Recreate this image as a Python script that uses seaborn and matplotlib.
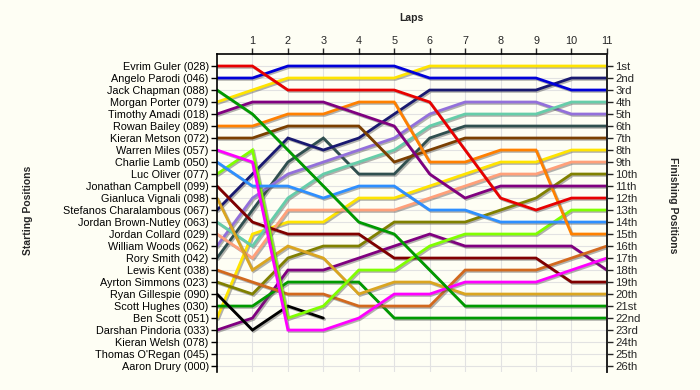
import matplotlib
matplotlib.use('Agg')
import matplotlib.pyplot as plt
import matplotlib.patheffects as pe
import pandas as pd
import seaborn as sns

laps = list(range(0, 12))

drivers = [
    'Evrim Guler (028)', 'Angelo Parodi (046)', 'Jack Chapman (088)', 'Morgan Porter (079)',
    'Timothy Amadi (018)', 'Rowan Bailey (089)', 'Kieran Metson (072)', 'Warren Miles (057)',
    'Charlie Lamb (050)', 'Luc Oliver (077)', 'Jonathan Campbell (099)', 'Gianluca Vignali (098)',
    'Stefanos Charalambous (067)', 'Jordan Brown-Nutley (063)', 'Jordan Collard (029)',
    'William Woods (062)', 'Rory Smith (042)', 'Lewis Kent (038)', 'Ayrton Simmons (023)',
    'Ryan Gillespie (090)', 'Scott Hughes (030)', 'Ben Scott (051)', 'Darshan Pindoria (033)',
    'Kieran Welsh (078)', "Thomas O'Regan (045)", 'Aaron Drury (000)',
]

# positions at start (lap 0) and after each lap
evrim = [1, 1, 3, 3, 3, 3, 4, 8, 12, 13, 12, 12]
angelo = [2, 2, 1, 1, 1, 1, 2, 2, 2, 2, 3, 3]
jack = [3, 5, 8, 11, 14, 15, 18, 21, 21, 21, 21, 21]
morgan = [4, 3, 2, 2, 2, 2, 1, 1, 1, 1, 1, 1]
timothy = [5, 4, 4, 4, 5, 6, 10, 12, 11, 11, 11, 11]
rowan = [6, 6, 5, 5, 4, 4, 9, 9, 8, 8, 15, 15]
kieran_m = [7, 7, 6, 6, 6, 9, 8, 7, 7, 7, 7, 7]
warren = [8, 9, 23, 23, 22, 20, 20, 19, 19, 19, 18, 17]
charlie = [9, 11, 11, 12, 11, 11, 13, 13, 14, 14, 14, 14]
luc = [10, 8, 22, 21, 18, 18, 16, 15, 15, 15, 13, 13]
jonathan = [11, 14, 15, 15, 15, 17, 17, 17, 17, 17, 19, 19]
gianluca = [12, 18, 16, 17, 20, 19, 19, 20, 20, 20, 20, 20]
stefanos = [13, 10, 7, 8, 7, 5, 3, 3, 3, 3, 2, 2]
jordan_bn = [14, 16, 12, 10, 9, 8, 6, 5, 5, 5, 4, 4]
jordan_c = [15, 17, 13, 13, 13, 13, 12, 11, 10, 10, 9, 9]
william = [16, 12, 10, 9, 8, 7, 5, 4, 4, 4, 5, 5]
rory = [17, 13, 9, 7, 10, 10, 7, 6, 6, 6, 6, 6]
lewis = [18, 19, 20, 20, 21, 21, 21, 18, 18, 18, 17, 16]
ayrton = [19, 20, 17, 16, 16, 14, 14, 14, 13, 12, 10, 10]
ryan = [20, 23, 21, 22]
scott = [21, 21, 19, 19, 19, 22, 22, 22, 22, 22, 22, 22]
ben = [22, 15, 14, 14, 12, 12, 11, 10, 9, 9, 8, 8]
darshan = [23, 22, 18, 18, 17, 16, 15, 16, 16, 16, 16, 18]

positions = [evrim, angelo, jack, morgan, timothy, rowan, kieran_m, warren, charlie, luc,
             jonathan, gianluca, stefanos, jordan_bn, jordan_c, william, rory, lewis, ayrton,
             ryan, scott, ben, darshan]

colors = ['#e80000', '#0000d8', '#009a00', '#ffe400', '#800080', '#ff8000', '#7b3f00',
          '#ff00ff', '#2e8fff', '#80ff00', '#800000', '#daa520', '#191970', '#66cdaa',
          '#ffa07a', '#9370db', '#2f4f4f', '#d2691e', '#808000', '#000000', '#009a00',
          '#ffe400', '#800080']

finish_labels = ['1st', '2nd', '3rd'] + [f'{i}th' for i in range(4, 21)] + \
                ['21st', '22nd', '23rd', '24th', '25th', '26th']

rows = []
for name, pos in zip(drivers, positions):
    for lap, p in zip(laps, pos):
        rows.append({'Lap': lap, 'Position': p, 'Driver': name})
df = pd.DataFrame(rows)
palette = dict(zip(drivers, colors))

sns.set_style('white')
plt.rcParams['font.family'] = ['Liberation Sans', 'DejaVu Sans']
bg = '#fefef4'

fig, ax = plt.subplots(figsize=(7, 3.9), dpi=100)
fig.patch.set_facecolor(bg)
ax.set_facecolor(bg)
fig.subplots_adjust(left=0.31, right=0.867, top=0.8615, bottom=0.046)

sns.lineplot(data=df, x='Lap', y='Position', hue='Driver', palette=palette,
             hue_order=drivers[:len(positions)][::-1], estimator=None, sort=False,
             legend=False, linewidth=2.0, ax=ax)
for line in ax.lines:
    line.set_path_effects([pe.SimpleLineShadow(offset=(1.0, -1.0), shadow_color='#555555', alpha=0.45),
                           pe.Normal()])
    line.set_solid_joinstyle('miter')

ax.set_xlim(0, 11)
ax.set_ylim(26.5, 0)
ax.set_xticks(range(1, 12))
ax.xaxis.tick_top()
ax.set_xlabel('')
ax.set_ylabel('')
ax.set_yticks(range(1, 27))
ax.set_yticklabels(drivers)
ax.tick_params(axis='y', length=4, width=1, labelsize=7.8, pad=2, colors='black')
ax.tick_params(axis='x', length=4, width=1, labelsize=7.8, pad=2, top=True, bottom=False)
ax.grid(True, color='#e2e2e2', linewidth=0.8)
ax.set_axisbelow(True)
for side in ['left', 'right', 'top']:
    ax.spines[side].set_color('black')
    ax.spines[side].set_linewidth(1.2)
ax.spines['bottom'].set_visible(False)

ax2 = ax.twinx()
ax2.set_ylim(26.5, 0)
ax2.set_yticks(range(1, 27))
ax2.set_yticklabels(finish_labels)
ax2.tick_params(axis='y', length=4, width=1, labelsize=8.2, pad=2)
for side in ['left', 'top', 'bottom']:
    ax2.spines[side].set_visible(False)
ax2.spines['right'].set_linewidth(1.2)
ax2.grid(False)

fig.text(0.587, 0.953, 'Laps', ha='center', va='center', fontsize=7.5, fontweight='bold')
fig.text(0.04, 0.46, 'Starting Positions', ha='center', va='center', rotation=90,
         fontsize=7.5, fontweight='bold')
fig.text(0.962, 0.475, 'Finishing Positions', ha='center', va='center', rotation=270,
         fontsize=7.5, fontweight='bold')

fig.savefig('out.png', dpi=100, facecolor=bg)
